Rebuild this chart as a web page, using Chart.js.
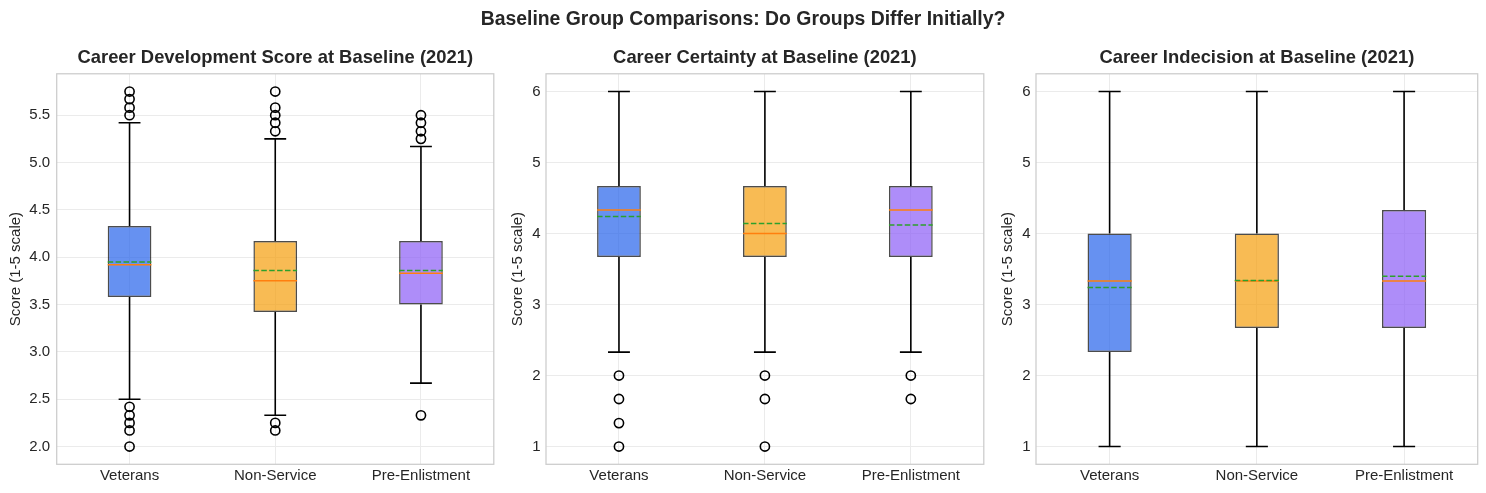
<!DOCTYPE html>
<html><head><meta charset="utf-8">
<script src="https://cdn.jsdelivr.net/npm/chart.js@4.4.1/dist/chart.umd.min.js"></script>
<style>
html,body{margin:0;padding:0;background:#fff;}
#wrap{position:relative;width:1486px;height:493px;overflow:hidden;font-family:"Liberation Sans",Arial,sans-serif;}
#sup{position:absolute;left:0;top:6px;width:1486px;text-align:center;font-weight:bold;font-size:19.4px;line-height:24px;color:#262626;}
canvas{position:absolute;top:0;}
</style></head><body>
<div id="wrap">
<canvas id="c1" width="500" height="493" style="left:0px"></canvas>
<canvas id="c2" width="490" height="493" style="left:500px"></canvas>
<canvas id="c3" width="496" height="493" style="left:990px"></canvas>
<div id="sup">Baseline Group Comparisons: Do Groups Differ Initially?</div>
</div>
<script>
// ---- data ----
const groups = ['Veterans', 'Non-Service', 'Pre-Enlistment'];
const boxColors = ['rgba(37,99,235,0.7)', 'rgba(245,158,11,0.7)', 'rgba(139,92,246,0.7)'];

// Panel 1: Career Development Score
const cdsQ1 = [3.58, 3.42, 3.50];
const cdsQ3 = [4.33, 4.17, 4.17];
const cdsMedian = [3.92, 3.75, 3.83];
const cdsMean = [3.95, 3.86, 3.86];
const cdsLow = [2.50, 2.33, 2.67];
const cdsHigh = [5.42, 5.25, 5.17];
const cdsOutliers = [
  [5.50, 5.58, 5.67, 5.75, 2.42, 2.33, 2.25, 2.17, 2.00],
  [5.33, 5.42, 5.50, 5.58, 5.75, 2.25, 2.17],
  [5.25, 5.33, 5.42, 5.50, 2.33]
];
const cdsTicks = [2.0, 2.5, 3.0, 3.5, 4.0, 4.5, 5.0, 5.5];

// Panel 2: Career Certainty
const certQ1 = [3.67, 3.67, 3.67];
const certQ3 = [4.67, 4.67, 4.67];
const certMedian = [4.33, 4.00, 4.33];
const certMean = [4.24, 4.14, 4.12];
const certLow = [2.33, 2.33, 2.33];
const certHigh = [6.0, 6.0, 6.0];
const certOutliers = [
  [2.00, 1.67, 1.33, 1.00],
  [2.00, 1.67, 1.00],
  [2.00, 1.67]
];
const certTicks = [1, 2, 3, 4, 5, 6];

// Panel 3: Career Indecision
const indQ1 = [2.33, 2.67, 2.67];
const indQ3 = [4.00, 4.00, 4.33];
const indMedian = [3.33, 3.33, 3.33];
const indMean = [3.24, 3.34, 3.40];
const indLow = [1.0, 1.0, 1.0];
const indHigh = [6.0, 6.0, 6.0];
const indOutliers = [[], [], []];
const indTicks = [1, 2, 3, 4, 5, 6];

// ---- drawing helpers ----
const FONT = '"Liberation Sans", Arial, sans-serif';
const TXT = '#262626';

const boxExtras = {
  id: 'boxExtras',
  afterDatasetsDraw(chart, args, o) {
    const ctx = chart.ctx;
    const y = chart.scales.y;
    const meta = chart.getDatasetMeta(0);
    meta.data.forEach((el, i) => {
      const x = el.x, w = el.width;
      const cap = w / 2;
      ctx.save();
      ctx.strokeStyle = '#000';
      ctx.lineWidth = 1.6;
      ctx.beginPath();
      ctx.moveTo(x, y.getPixelForValue(o.q3[i]));
      ctx.lineTo(x, y.getPixelForValue(o.high[i]));
      ctx.moveTo(x, y.getPixelForValue(o.q1[i]));
      ctx.lineTo(x, y.getPixelForValue(o.low[i]));
      ctx.moveTo(x - cap / 2, y.getPixelForValue(o.high[i]));
      ctx.lineTo(x + cap / 2, y.getPixelForValue(o.high[i]));
      ctx.moveTo(x - cap / 2, y.getPixelForValue(o.low[i]));
      ctx.lineTo(x + cap / 2, y.getPixelForValue(o.low[i]));
      ctx.stroke();
      // median
      ctx.lineWidth = 1.5;
      ctx.strokeStyle = '#ff7f0e';
      ctx.beginPath();
      const ym = y.getPixelForValue(o.median[i]);
      ctx.moveTo(x - w / 2, ym); ctx.lineTo(x + w / 2, ym);
      ctx.stroke();
      // mean
      ctx.strokeStyle = '#2ca02c';
      ctx.setLineDash([5.5, 2.4]);
      ctx.beginPath();
      const ya = y.getPixelForValue(o.mean[i]);
      ctx.moveTo(x - w / 2, ya); ctx.lineTo(x + w / 2, ya);
      ctx.stroke();
      ctx.restore();
    });
  }
};

const frame = {
  id: 'frame',
  afterDraw(chart) {
    const a = chart.chartArea, ctx = chart.ctx;
    ctx.save();
    ctx.strokeStyle = '#cccccc';
    ctx.lineWidth = 1.25;
    ctx.strokeRect(a.left, a.top, a.right - a.left, a.bottom - a.top);
    ctx.restore();
  }
};

function makePanel(id, title, q1, q3, median, mean, low, high, outliers, yMin, yMax, yTicks, dec, yW, padR, titlePad, tickPad) {
  const outPts = [];
  outliers.forEach((arr, i) => arr.forEach(v => outPts.push({x: groups[i], y: v})));
  new Chart(document.getElementById(id), {
    data: {
      labels: groups,
      datasets: [
        {
          type: 'bar',
          data: q1.map((v, i) => [v, q3[i]]),
          backgroundColor: boxColors,
          borderColor: 'rgba(0,0,0,0.7)',
          borderWidth: 1.5,
          borderSkipped: false,
          barPercentage: 0.3,
          categoryPercentage: 1.0
        },
        {
          type: 'line',
          data: outPts,
          showLine: false,
          pointStyle: 'circle',
          pointRadius: 4.6,
          pointBorderWidth: 1.6,
          pointBorderColor: '#000',
          pointBackgroundColor: 'rgba(0,0,0,0)'
        }
      ]
    },
    options: {
      responsive: false,
      animation: false,
      layout: {padding: {top: 47.2, right: padR, left: 0, bottom: 0}},
      plugins: {
        legend: {display: false},
        tooltip: {enabled: false},
        title: {
          display: true, text: title, color: TXT, fullSize: false,
          font: {family: FONT, size: 18.4, weight: 'bold'},
          padding: {top: 0, bottom: 4.5}
        },
        boxExtras: {q1, q3, median, mean, low, high}
      },
      scales: {
        x: {
          type: 'category',
          offset: true,
          grid: {display: true, offset: false, color: '#ebebeb', lineWidth: 1, drawTicks: false},
          border: {display: false},
          ticks: {font: {family: FONT, size: 15}, color: TXT, padding: 3, maxRotation: 0},
          afterFit: s => { s.height = 28.7; }
        },
        y: {
          type: 'linear',
          min: yMin, max: yMax,
          afterBuildTicks: s => { s.ticks = yTicks.map(v => ({value: v})); },
          grid: {color: '#ebebeb', lineWidth: 1, drawTicks: false},
          border: {display: false},
          ticks: {font: {family: FONT, size: 15}, color: TXT, padding: tickPad,
                  callback: v => Number(v).toFixed(dec)},
          title: {display: true, text: 'Score (1-5 scale)', color: TXT,
                  font: {family: FONT, size: 15}, padding: {top: titlePad, bottom: 0}},
          afterFit: s => { s.width = yW; }
        }
      }
    },
    plugins: [boxExtras, frame]
  });
}

makePanel('c1', 'Career Development Score at Baseline (2021)', cdsQ1, cdsQ3, cdsMedian, cdsMean, cdsLow, cdsHigh, cdsOutliers,
  1.8125, 5.9375, cdsTicks, 1, 56.7, 3.3, 6.8, 6.5);
makePanel('c2', 'Career Certainty at Baseline (2021)', certQ1, certQ3, certMedian, certMean, certLow, certHigh, certOutliers,
  0.75, 6.25, certTicks, 0, 46, 2.3, 8.8, 5.5);
makePanel('c3', 'Career Indecision at Baseline (2021)', indQ1, indQ3, indMedian, indMean, indLow, indHigh, indOutliers,
  0.75, 6.25, indTicks, 0, 46, 8.3, 8.8, 5.5);
</script>
</body></html>
